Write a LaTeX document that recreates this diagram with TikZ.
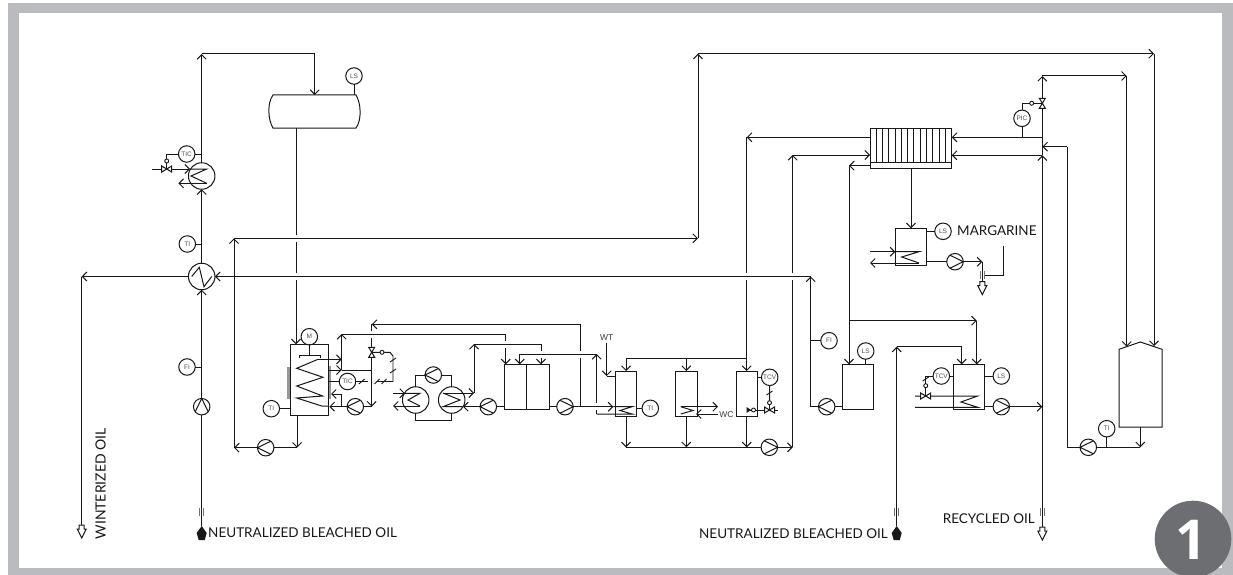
\documentclass[tikz,border=0pt]{standalone}
\usepackage{fontspec}
\setmainfont{Lato}
\newfontfamily\instfont{Liberation Sans}
\newfontfamily\badgefont{Open Sans}
\usetikzlibrary{arrows.meta,calc}
\definecolor{inkc}{HTML}{1A1718}
\definecolor{framec}{HTML}{B9BBBE}
\definecolor{badgec}{HTML}{6D6E71}
\tikzset{
  >={Straight Barb[length=4.5pt,width=9pt,line width=1pt]},
  pipe/.style={draw=inkc,line width=1pt,line join=miter},
  thinp/.style={draw=inkc,line width=.95pt},
  inst/.style={circle,draw=inkc,line width=1pt,fill=white,inner sep=0pt,minimum size=16.5pt,outer sep=0pt,font=\instfont\fontsize{6.5}{7}\selectfont,text=inkc!75},
  pumpc/.style={circle,draw=inkc,line width=1pt,fill=white,inner sep=0pt,minimum size=16.5pt,outer sep=0pt},
  hxc/.style={circle,draw=inkc,line width=1pt,fill=white,inner sep=0pt,minimum size=26.5pt,outer sep=0pt},
  tankbox/.style={rectangle,draw=inkc,line width=1pt,fill=white,inner sep=0pt,outer sep=0pt},
  lbl/.style={font=\fontsize{13.5}{16}\selectfont,text=inkc,inner sep=0pt},
  smalllbl/.style={font=\instfont\fontsize{8.5}{9}\selectfont,text=inkc!85,inner sep=0pt},
  markc/.style={draw=inkc!60,line width=1pt},
  gapc/.style={fill=white,draw=none}
}
\newcommand\cpt[3]{\coordinate (#1) at (#2,#3);}
\newcommand\pumpn[4]{\node[pumpc] (#1) at (#2,#3) {};
  \draw[pipe] ([shift={(#4+128:8.25pt)}]#1.center) -- ([shift={(#4:8.25pt)}]#1.center) -- ([shift={(#4-128:8.25pt)}]#1.center);}
\newcommand\boxn[5]{\pgfmathsetmacro\cxv{(#2+#4)/2}\pgfmathsetmacro\cyv{(#3+#5)/2}\pgfmathsetmacro\wv{#4-#2}\pgfmathsetmacro\hv{#5-#3}
  \node[tankbox,minimum width=\wv pt,minimum height=\hv pt] (#1) at (\cxv,\cyv) {};}
\newcommand\valveh[3]{\coordinate (#1) at (#2,#3);
  \draw[pipe,fill=white] ($(#1)+(-5,-3)$) -- ($(#1)+(5,3)$) -- ($(#1)+(5,-3)$) -- ($(#1)+(-5,3)$) -- cycle;}
\newcommand\valvev[3]{\coordinate (#1) at (#2,#3);
  \draw[pipe,fill=white] ($(#1)+(-3,-5)$) -- ($(#1)+(3,5)$) -- ($(#1)+(-3,5)$) -- ($(#1)+(3,-5)$) -- cycle;}
\newcommand\smallc[3]{\node[circle,draw=inkc,line width=.9pt,fill=white,inner sep=0pt,minimum size=4pt,outer sep=0pt] (#1) at (#2,#3) {};}
\newcommand\gapv[2]{\fill[gapc] (#1-2,#2-3.5) rectangle (#1+2,#2+3.5);}
\newcommand\brk[2]{\draw[markc] (#1-2,#2-4) -- (#1-2,#2+4) (#1+2,#2-4) -- (#1+2,#2+4);}
\newcommand\hollow[2]{\draw[pipe,fill=white] (#1-2.5,#2) -- (#1+2.5,#2) -- (#1+2.5,#2+4) -- (#1+4.5,#2+4) -- (#1,#2+13) -- (#1-4.5,#2+4) -- (#1-2.5,#2+4) -- cycle;}
\newcommand\solidup[2]{\fill[inkc] (#1,#2) -- (#1+5,#2+7) -- (#1+3,#2+14) -- (#1-3,#2+14) -- (#1-5,#2+7) -- cycle;}
\newcommand\tickm[4]{\draw[thinp] (#1-#3,#2+#4) -- (#1+#3,#2-#4);}
\begin{document}
\begin{tikzpicture}[x=1pt,y=-1pt]
\useasboundingbox (0,0) rectangle (1233,575);
% frame
\fill[framec] (8,3) rectangle (1233,575);
\fill[white] (19,13) rectangle (1222,568);
% ---------- coordinates
\cpt{botA}{201.7}{526}
\cpt{topA}{201.7}{54}\cpt{topB}{314.7}{54}\cpt{tankSin}{314.7}{95}
\cpt{wA}{81.7}{276.5}\cpt{wB}{81.7}{525}
\cpt{rA}{810.7}{276.5}\cpt{rB}{810.7}{406.7}
\cpt{aB}{234}{447.7}\cpt{aT}{234}{238.3}\cpt{bB}{698}{238.3}\cpt{bT}{698}{53.7}\cpt{bR}{1154}{53.7}\cpt{bD}{1154}{346}
\cpt{mB}{297}{415.7}\cpt{mJ}{297}{447.7}
\cpt{sO}{296}{128}\cpt{sM}{296}{344.3}
% ---------- vessels
\boxn{tankM}{290}{344.3}{328.7}{415.7}
\boxn{filt}{504}{364.3}{549.3}{409.3}
\boxn{tA}{615}{371}{636.7}{416}
\boxn{tB}{675.7}{371}{697.3}{416}
\boxn{tC}{736}{371}{757.3}{416}
\boxn{tD}{842}{364.3}{873}{409.3}
\boxn{tE}{953.7}{364.3}{984.7}{409.3}
\boxn{tF}{895.3}{228.3}{926}{265.7}
\boxn{rad}{870}{128.3}{951.7}{168.3}
\node[inner sep=0pt,minimum width=93pt,minimum height=33pt] (tankS) at (314.7,111.5) {};
\draw[pipe] (273,95) -- (356,95) .. controls (361,103) and (362,120) .. (356,128) -- (273,128) .. controls (268,120) and (267,103) .. (273,95) -- cycle;
\node[inner sep=0pt,minimum width=43pt,minimum height=85pt] (silo) at (1140.5,384.5) {};
\draw[pipe] (1119,349.3) -- (1140.3,342) -- (1162,349.3) -- (1162,427) -- (1119,427) -- cycle;
% ---------- under pipes (with bridges)
\draw[pipe] (sO) -- (296,238.3);
\draw[pipe,->] (296,238.3) -- (sM);
\draw[pipe] (aB) -- (234,276.5);
\cpt{x1t}{371.7}{324.3}\cpt{x1b}{371.7}{406.7}
\cpt{x2t}{580.7}{324.3}\cpt{x2b}{580.7}{406.7}
\draw[pipe,->] (x2b) -- (x2t) -- (x1t);
\draw[pipe,->] (x1t) -- (x1b);
\cpt{k1}{505.7}{334}\cpt{k1b}{505.7}{364.3}\cpt{k2}{541}{344}\cpt{k2b}{541}{364.3}
\draw[pipe,->] (k1) -- (k1b);
\draw[pipe,->] (k2) -- (k2b);
\cpt{w1b}{596.7}{414}\cpt{w1t}{596.7}{354}
\draw[pipe,->] (w1b) -- (w1t);
\cpt{v7t}{746.7}{137.3}\cpt{v7j}{746.7}{358.3}\cpt{v7b}{746.7}{371}
\draw[pipe,->] (rad.west |- v7t) -- (v7t);
\draw[pipe,->] (v7t) -- (v7b);
\cpt{v79b}{792.7}{447.3}\cpt{v79t}{792.7}{155}\cpt{v79r}{870}{155}
\draw[pipe,->] (v79b) -- (v79t);
\gapv{296}{238.3}\gapv{296}{276.5}\gapv{234}{276.5}
\gapv{371.7}{334}\gapv{505.7}{344}\gapv{541}{354}\gapv{580.7}{354}\gapv{596.7}{406.7}
\gapv{746.7}{276.5}\gapv{792.7}{276.5}
% ---------- main pipes
\draw[pipe,->] (aB) -- (aT);
\draw[pipe,->] (aT) -- (bB);
\draw[pipe,->] (bB) -- (bT);
\draw[pipe,->] (bT) -- (bR);
\draw[pipe,->] (bR) -- (bD);
\draw[pipe,->] (v79t) -- (v79r);
\draw[pipe,->] (mB) -- (mJ);
\cpt{j341t}{341.7}{334}\cpt{j341m}{341.7}{370}\cpt{j341b}{341.7}{407}\cpt{j341u}{341.7}{394}
\draw[pipe,->] (j341m) -- (j341t);
\draw[pipe] (j341t) -- (k1);
\cpt{k2l}{474}{344}\cpt{k2lb}{474}{393}
\draw[pipe,->] (k2lb) -- (k2l);
\draw[pipe] (k2l) -- (k2);
\cpt{w0}{519.7}{354}\cpt{w0b}{519.7}{364.3}
\draw[pipe,->] (w0) -- (w0b);
\draw[pipe] (w0) -- (w1t);
% --- pumps, exchangers, instruments
\pumpn{pA}{201.7}{406.7}{90}
\pumpn{pB}{265.7}{447.7}{180}
\pumpn{pC}{355.3}{406.7}{180}
\pumpn{pD}{433.3}{375}{180}
\pumpn{pE}{488.3}{406.7}{180}
\pumpn{pF}{565}{406.7}{0}
\pumpn{pG}{769.3}{447.3}{0}
\pumpn{pH}{826.7}{406.7}{180}
\pumpn{pI}{1001.3}{406.7}{0}
\pumpn{pJ}{955}{261.7}{0}
\pumpn{pK}{1088.3}{447.3}{180}
\node[hxc] (E1) at (201.7,276.5) {};
\node[hxc] (HX2) at (201.7,176) {};
\node[hxc] (HXL) at (415.7,400) {};
\node[hxc] (HXR) at (451.7,400) {};
\node[inst] (iLS1) at (354,76) {LS};
\node[inst] (iTIC1) at (186.7,154) {TIC};
\node[inst] (iTI1) at (187.3,244) {TI};
\node[inst] (iFI1) at (187,367) {FI};
\node[inst] (iM) at (309.3,336.7) {M};
\node[inst] (iTIC2) at (347.5,381.5) {TIC};
\node[inst] (iTI2) at (271.3,408.7) {TI};
\node[inst] (iTI3) at (650.3,408.3) {TI};
\node[inst] (iTCV1) at (769.7,377.3) {TCV};
\node[inst] (iFI2) at (829,340.7) {FI};
\node[inst] (iLS2) at (865.7,351) {LS};
\node[inst] (iTCV2) at (941.3,376) {TCV};
\node[inst] (iLS3) at (1001.3,376) {LS};
\node[inst] (iLS4) at (943,231.3) {LS};
\node[inst] (iPIC) at (1022,118.3) {PIC};
\node[inst] (iTI4) at (1106.7,428.7) {TI};
% left column
\draw[pipe] (botA) -- (pA.south);
\draw[pipe,->] (pA.north) -- (E1.south);
\draw[pipe,->] (E1.north) -- (HX2.south);
\draw[pipe,->] (HX2.north) -- (topA);
\draw[pipe,->] (topA) -- (topB) -- (tankSin);
\draw[pipe] (iFI1) -- (iFI1 -| pA);
\draw[pipe] (iTI1) -- (iTI1 -| E1);
\draw[pipe] (iTIC1) -- (iTIC1 -| E1);
\draw[pipe] (iLS1) -- (iLS1 |- tankS.north);
\draw[pipe,->] (E1.west) -- (wA);
\draw[pipe] (wA) -- (wB);
\draw[pipe,->] (rA) -- (E1.east);
\draw[pipe] (191.7,276.5) -- (199.3,267.3) -- (204,286.7) -- (211.7,276.5);
% HX2 coil and valve
\cpt{hA}{151.7}{169}\cpt{hB}{190}{169}\cpt{hC}{206.7}{169}\cpt{hD}{191}{176}\cpt{hE}{206.7}{183.3}\cpt{hF}{178.3}{183.3}
\draw[pipe,->] (hA) -- (hB);
\draw[pipe] (hB) -- (hC) -- (hD) -- (hE);
\draw[pipe,->] (hE) -- (hF);
\valveh{vA}{166.7}{169}
\cpt{hS}{166.7}{154}
\draw[thinp] (iTIC1) -- (hS) -- (vA);
\smallc{sA}{166.7}{161}
% pump B and main tank
\draw[pipe,->] (pB.west) -- (aB);
\draw[pipe] (mJ) -- (pB.east);
\draw[pipe] (iM) -- (iM |- tankM.north);
\draw[pipe] (309.3,344.3) -- (309.3,355);
\draw[pipe] (299.3,357.5) -- (299.3,355) -- (320,355) -- (320,357.5);
\draw[pipe] (iTI2) -- (iTI2 -| tankM.west);
\fill[inkc!45] (287.3,366.7) rectangle (290,398.7);
\fill[inkc!45] (328.7,366.2) rectangle (331.4,399.2);
\cpt{cA}{341.7}{359.3}\cpt{cB}{318}{359.3}\cpt{cC}{296.7}{368.3}\cpt{cD}{323}{377.3}\cpt{cE}{296.7}{386}\cpt{cF}{322.7}{396}\cpt{cG}{296.7}{398}\cpt{cH}{321.7}{406}
\draw[pipe,->] (cB) -- (cA);
\draw[pipe] (cB) -- (cC) -- (cD) -- (cE) -- (cF) -- (cG) -- (cH) -- (tankM.east |- cH);
\draw[pipe,->] (tankM.east |- j341m) -- (j341m);
\draw[pipe] (j341m) -- (j341m -| x1t);
\draw[pipe,->] (j341b) -- (j341u) -- (331,394);
\draw[pipe,->] (pC.west) -- (329.3,406.7);
\draw[pipe] (pC.east) -- (x1b);
\draw[pipe] (iTIC2) -- (iTIC2 -| tankM.east);
\draw[thinp] (iTIC2) -- (368.3,381.5);
\tickm{361.7}{381.5}{3}{2.5}
% valve on x1
\valvev{vB}{371.7}{352.3}
\smallc{sB}{382}{352.3}
\cpt{sg1}{390}{352.3}\cpt{sg2}{393}{356}\cpt{sg3}{393}{381.5}\cpt{sg4}{376.7}{381.5}
\draw[thinp] (vB) -- (sB) -- (sg1) -- (sg2) -- (sg3) -- (sg4);
\tickm{393}{360}{3}{2}\tickm{393}{371}{3}{2}\tickm{384}{381.5}{2.5}{2.5}\tickm{377}{381.5}{2.5}{2.5}
% twin HX
\cpt{hl1}{415.7}{375}\cpt{hl2}{415.7}{420}\cpt{hr1}{451.7}{375}\cpt{hr2}{451.7}{420}
\draw[pipe] (HXL.north) -- (hl1) -- (pD.west);
\draw[pipe] (pD.east) -- (hr1) -- (HXR.north);
\draw[pipe] (HXL.south) -- (hl2) -- (hr2) -- (HXR.south);
\cpt{ca}{393}{393.3}\cpt{cb}{405}{393.3}\cpt{cc}{420}{393.3}\cpt{cd}{408}{400}\cpt{ce}{420}{406}\cpt{cf}{393}{406}
\draw[pipe,->] (ca) -- (cb);
\draw[pipe] (cb) -- (cc) -- (cd) -- (ce);
\draw[pipe,->] (ce) -- (cf);
\cpt{da}{443}{393}\cpt{dc}{460}{400}\cpt{de}{443}{406.7}
\draw[pipe,->] (da) -- (k2lb);
\draw[pipe] (da) -- (dc) -- (de) -- (462,406.7);
\draw[pipe,->] (pE.west) -- (463,406.7);
\draw[pipe] (pE.east) -- (filt.west |- pE);
\draw[pipe] (526.7,364.3) -- (526.7,409.3);
\draw[pipe] (filt.east |- pF) -- (pF.west);
\cpt{p1}{613.3}{406.7}
\draw[pipe,->] (pF.east) -- (p1);
% WT tank A
\cpt{wt1}{606.7}{343}\cpt{wt2}{606.7}{376}\cpt{wt3}{615}{376}
\draw[pipe,->] (wt1) -- (wt2);
\draw[pipe] (wt2) -- (wt3);
\node[smalllbl] (lWT) at (606.7,337.3) {WT};
\draw[pipe] (p1) -- (632,406.7) -- (620,410.5) -- (632,414) -- (w1b);
\draw[pipe] (iTI3) -- (iTI3 -| tA.east);
% top header to A, B, C
\cpt{ha}{626}{358.3}\cpt{hb}{686.3}{358.3}
\draw[pipe,->] (v7j) -- (ha) -- (626,371);
\draw[pipe,->] (hb) -- (686.3,371);
% tank B coil
\cpt{bc1}{680.7}{406.7}\cpt{bc2}{718}{406.7}\cpt{bc3}{693}{410.5}\cpt{bc4}{680.7}{414}\cpt{bc5}{718}{414}
\draw[pipe] (bc1) -- (bc3) -- (bc4);
\draw[pipe,->] (bc1) -- (bc2);
\draw[pipe,->] (bc5) -- (696,414);
\node[smalllbl] (lWC) at (726.5,414.5) {WC};
% bottom header
\cpt{ga}{626}{447.3}\cpt{gb}{686.3}{447.3}\cpt{gc}{746.7}{447.3}
\draw[pipe,->] (tA.south -| ga) -- (ga);
\draw[pipe,->] (tB.south -| gb) -- (gb);
\draw[pipe,->] (tC.south -| gc) -- (gc);
\draw[pipe] (ga) -- (pG.west);
\draw[pipe,->] (pG.east) -- (v79b);
% tank C
\draw[pipe] (iTCV1) -- (iTCV1 -| tC.east);
\smallc{sC}{769.5}{402.7}
\cpt{vCt}{769.5}{410}
\draw[thinp] (iTCV1) -- (sC) -- (vCt);
\tickm{769.5}{393}{3}{2}
\cpt{cl}{750}{410}
\draw[thinp] (cl) -- (778,410);
\valveh{vC}{769.5}{410}
\smallc{sD}{753.5}{410}
\fill[inkc] (746.5,407) -- (751,410) -- (746.5,413) -- cycle;
% tank D
\draw[pipe] (iFI2) -- (iFI2 -| rB);
\draw[pipe,->] (rB) -- (rA);
\draw[pipe] (pH.west) -- (rB);
\draw[pipe] (pH.east) -- (tD.west |- pH);
\draw[pipe] (iLS2) -- (iLS2 |- tD.north);
\cpt{h8t}{849}{165.7}\cpt{h8r}{870}{165.7}\cpt{h8b}{849}{364.3}\cpt{h8j}{849}{320.7}\cpt{h9}{976.7}{320.7}\cpt{h9b}{976.7}{364.3}
\draw[pipe,->] (h8r) -- (h8t);
\draw[pipe,->] (h8t) -- (h8b);
\draw[pipe,->] (h8j) -- (h9);
\draw[pipe,->] (h9) -- (h9b);
% second feed
\cpt{fA}{896.7}{526}\cpt{fB}{896.7}{346.7}\cpt{fC}{961.7}{346.7}\cpt{fD}{961.7}{364.3}
\draw[pipe,->] (fA) -- (fB);
\draw[pipe,->] (fB) -- (fC) -- (fD);
% tank E
\draw[pipe] (iTCV2) -- (iTCV2 -| tE.west);
\draw[pipe] (iLS3) -- (iLS3 -| tE.east);
\cpt{ea}{915}{396}\cpt{eb}{977.7}{396}\cpt{ec}{961}{402}\cpt{ed}{977.7}{407.3}\cpt{ee}{915}{407.3}
\draw[pipe] (ea) -- (eb) -- (ec) -- (ed) -- (ee);
\smallc{sE}{925.7}{385.7}
\cpt{ef}{925.7}{376}\cpt{vEt}{925.7}{396}
\draw[thinp] (iTCV2) -- (ef) -- (sE) -- (vEt);
\valveh{vE}{925.7}{396}
\tickm{925.7}{379}{3}{2}
\draw[pipe] (tE.east |- pI) -- (pI.west);
\cpt{mainI}{1042.3}{406.7}
\draw[pipe,->] (pI.east) -- (mainI);
% radiator
\draw[pipe] (870,162.3) -- (951.7,162.3);
\foreach \i in {1,...,12} {\draw[thinp] (870+\i*6.28,128.3) -- (870+\i*6.28,162.3);}
\cpt{mT}{1042.3}{76}\cpt{m155}{1042.3}{155.3}\cpt{m137}{1042.3}{137.3}\cpt{m146}{1042.3}{146.7}\cpt{mBot}{1042.3}{527}\cpt{mR}{1126.7}{76}\cpt{mD}{1126.7}{346.7}
\draw[pipe,->] (mBot) -- (m155);
\draw[pipe,->] (m155) -- (mT);
\draw[pipe,->] (mT) -- (mR);
\draw[pipe,->] (mR) -- (mD);
\draw[pipe,->] (m155) -- (rad.east |- m155);
\draw[pipe,->] (m137) -- (rad.east |- m137);
\draw[pipe] (iPIC) -- (iPIC |- m137);
\valvev{vP}{1042.3}{103.3}
\smallc{sP}{1031.7}{103.3}
\cpt{pS}{1022}{103.3}
\draw[thinp] (iPIC) -- (pS) -- (sP) -- (vP);
% silo
\cpt{oA}{1140.3}{447.3}\cpt{oL}{1067}{447.3}\cpt{oT}{1067}{146.7}
\draw[pipe,->] (silo.south -| oA) -- (oA);
\draw[pipe] (oA) -- (pK.east);
\draw[pipe] (pK.west) -- (oL) -- (oT);
\draw[pipe,->] (oT) -- (m146);
\draw[pipe] (iTI4) -- (iTI4 |- oA);
% tank F
\cpt{rD}{911}{168.3}
\draw[pipe,->] (rD) -- (911,228.3);
\draw[pipe] (iLS4) -- (iLS4 -| tF.east);
\cpt{fa}{870}{251.7}\cpt{fb}{895.3}{251.7}\cpt{fc}{919}{251.7}\cpt{fd}{901.7}{257}\cpt{fe}{919}{263}\cpt{ff}{870}{263}
\draw[pipe,->] (fa) -- (fb);
\draw[pipe] (fb) -- (fc) -- (fd) -- (fe);
\draw[pipe,->] (fe) -- (ff);
\draw[pipe] (tF.east |- pJ) -- (pJ.west);
\cpt{ma}{982.3}{261.7}\cpt{mb}{982.3}{281.7}
\draw[pipe,->] (pJ.east) -- (ma);
\draw[pipe] (ma) -- (mb);
\cpt{mc}{984.5}{275}\cpt{md}{1003.3}{275}\cpt{me}{1003.3}{246}
\draw[pipe] (mc) -- (md) -- (me);
\brk{982.3}{275}
\hollow{982.3}{281.7}
\hollow{1042.3}{527}
\hollow{81.7}{525}
\brk{201.7}{512}
\brk{896.7}{511.5}
\brk{1042.3}{511.5}
\solidup{201.7}{526}
\solidup{896.7}{526}
% labels
\node[lbl,anchor=west] (lNB1) at (208,533) {NEUTRALIZED BLEACHED OIL};
\node[lbl,anchor=east] (lNB2) at (888,534) {NEUTRALIZED BLEACHED OIL};
\node[lbl,anchor=east] (lRO) at (1035,519) {RECYCLED OIL};
\node[lbl,anchor=west] (lMG) at (957,231) {MARGARINE};
\node[lbl,anchor=east,rotate=90,font=\fontsize{14}{16}\selectfont] (lWO) at (100.5,428) {WINTERIZED OIL};
% badge
\begin{scope}
\clip (0,0) rectangle (1233,575);
\fill[badgec] (1193,539) circle (38.3);
\end{scope}
\node[text=white,font=\badgefont\fontsize{55}{55}\selectfont\bfseries,inner sep=0pt] (lOne) at (1191,539.5) {1};
\end{tikzpicture}
\end{document}
